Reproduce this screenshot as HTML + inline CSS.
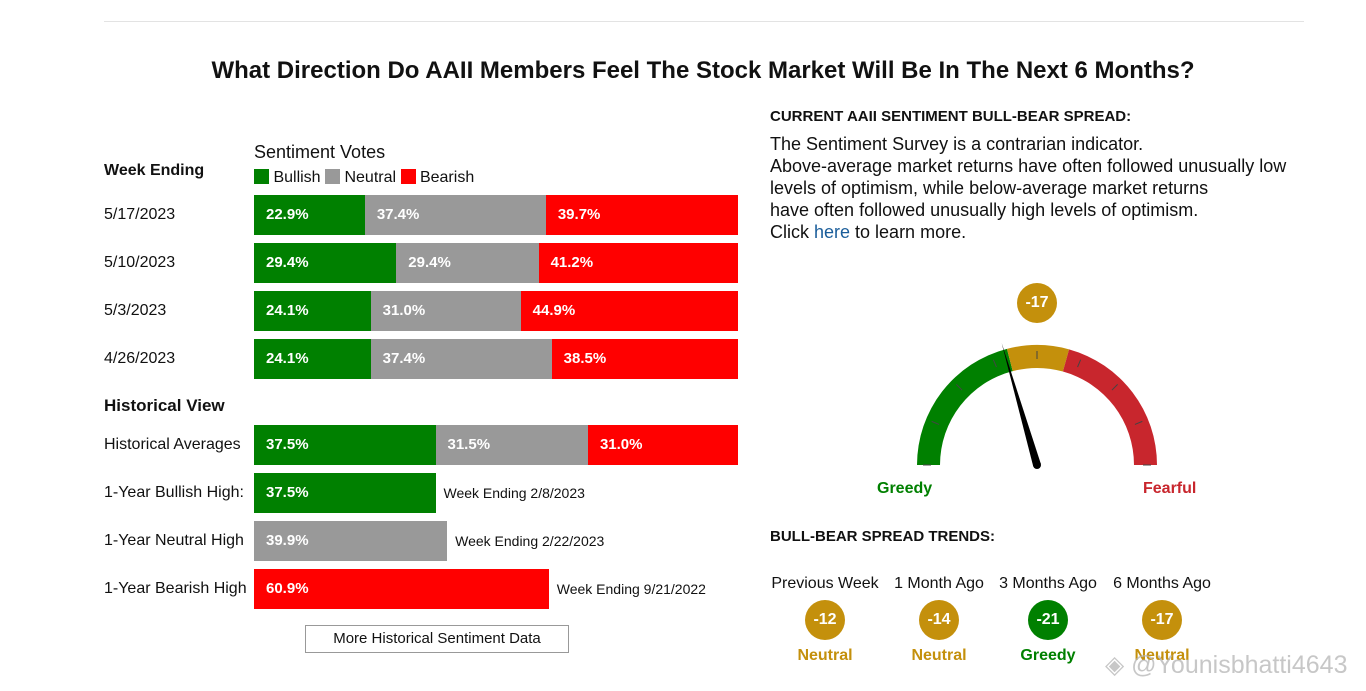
<!DOCTYPE html>
<html><head><meta charset="utf-8">
<style>
body{margin:0;width:1366px;height:691px;background:#fff;font-family:"Liberation Sans",Arial,sans-serif;position:relative;overflow:hidden;color:#111}
.a{position:absolute;white-space:nowrap}
.bar{position:absolute;height:40px;color:#fff;font-weight:bold;font-size:15px;line-height:40px;box-sizing:border-box;padding-left:12px;overflow:hidden}
.lbl{position:absolute;font-size:16px;left:104px}
.circ{position:absolute;width:40px;height:40px;border-radius:50%;color:#fff;font-weight:bold;font-size:16px;text-align:center;line-height:40px}
.st{position:absolute;font-weight:bold;font-size:16px;text-align:center;width:100px}
</style></head><body>
<div class="a" style="left:104px;top:21px;width:1200px;height:1px;background:#e3e3e3"></div>
<div class="a" style="left:0;width:1406px;text-align:center;top:57px;font-size:24px;font-weight:bold">What Direction Do AAII Members Feel The Stock Market Will Be In The Next 6 Months?</div>

<div class="a" style="left:104px;top:162px;font-size:16px;font-weight:bold">Week Ending</div>
<div class="a" style="left:254px;top:142px;font-size:18px">Sentiment Votes</div>
<div class="a" style="left:254px;top:169px;font-size:16px">
<span><span style="display:inline-block;width:15px;height:15px;background:#008000;vertical-align:-2px"></span> Bullish</span>
<span><span style="display:inline-block;width:15px;height:15px;background:#999;vertical-align:-2px"></span> Neutral</span>
<span><span style="display:inline-block;width:15px;height:15px;background:#f00;vertical-align:-2px"></span> Bearish</span>
</div>
<div class="a" style="left:104px;top:396px;font-size:17px;font-weight:bold">Historical View</div>
<div id="bars"></div>
<div class="a" style="left:305px;top:625px;width:262px;height:26px;border:1px solid #999;text-align:center;line-height:26px;font-size:15px">More Historical Sentiment Data</div>

<div class="a" style="left:770px;top:108px;font-size:15px;font-weight:bold">CURRENT AAII SENTIMENT BULL-BEAR SPREAD:</div>
<div class="a" style="left:770px;top:133px;font-size:18px;line-height:22px">The Sentiment Survey is a contrarian indicator.<br>Above-average market returns have often followed unusually low<br>levels of optimism, while below-average market returns<br>have often followed unusually high levels of optimism.<br>Click <span style="color:#1a5d9a">here</span> to learn more.</div>

<div class="circ" style="left:1017px;top:283px;background:#c4900c">-17</div>
<svg class="a" style="left:900px;top:330px" width="280" height="150" viewBox="900 330 280 150" id="gauge"></svg>
<div class="a" style="left:877px;top:480px;font-size:16px;font-weight:bold;color:#008000">Greedy</div>
<div class="a" style="left:1143px;top:480px;font-size:16px;font-weight:bold;color:#c8262d">Fearful</div>

<div class="a" style="left:770px;top:528px;font-size:15px;font-weight:bold">BULL-BEAR SPREAD TRENDS:</div>
<div id="trends"></div>
<div class="a" style="left:1105px;top:650px;font-size:25px;color:rgba(180,180,180,0.75)">◈ @Younisbhatti4643</div>

<script>
const weekLabels=["5/17/2023","5/10/2023","5/3/2023","4/26/2023","Historical Averages"];
const bullish=[22.9,29.4,24.1,24.1,37.5];
const neutral=[37.4,29.4,31.0,37.4,31.5];
const bearish=[39.7,41.2,44.9,38.5,31.0];
const highLabels=["1-Year Bullish High:","1-Year Neutral High","1-Year Bearish High"];
const highValues=[37.5,39.9,60.9];
const highWeeks=["Week Ending 2/8/2023","Week Ending 2/22/2023","Week Ending 9/21/2022"];
const trendLabels=["Previous Week","1 Month Ago","3 Months Ago","6 Months Ago"];
const trendValues=[-12,-14,-21,-17];
const trendStatus=["Neutral","Neutral","Greedy","Neutral"];
const currentSpread=-17;

const X0=254,W=484;
const xs=v=>v/100*W;
const rowTops=[195,243,291,339,425];
const host=document.getElementById('bars');
function mk(cls,name,inter,style,text){const d=document.createElement('div');d.className=cls;


d.style.cssText=style;if(text!==undefined)d.textContent=text;host.appendChild(d);return d;}
weekLabels.forEach((l,i)=>{
 const t=rowTops[i];
 mk('lbl','row-label','false','top:'+(t+11)+'px',l);
 let x=X0;
 [[bullish[i],'#008000','bullish'],[neutral[i],'#999','neutral'],[bearish[i],'#f00','bearish']].forEach(s=>{
  const w=xs(s[0]);
  mk('bar','bar-'+s[2],'false','left:'+x+'px;top:'+t+'px;width:'+w+'px;background:'+s[1],s[0].toFixed(1)+'%');
  x+=w;});
});
const hc=['#008000','#999','#f00'];
highLabels.forEach((l,i)=>{
 const t=473+i*48;
 mk('lbl','high-label','false','top:'+(t+11)+'px',l);
 const w=xs(highValues[i]);
 mk('bar','bar-high','false','left:'+X0+'px;top:'+t+'px;width:'+w+'px;background:'+hc[i],highValues[i].toFixed(1)+'%');
 mk('a','high-week','false','left:'+(X0+w+8)+'px;top:'+(t+12)+'px;font-size:14px',highWeeks[i]);
});

const th=document.getElementById('trends');
const colOf=s=>s==='Greedy'?'#008000':(s==='Fearful'?'#c8262d':'#c4900c');
const centers=[825,939,1048,1162];
trendLabels.forEach((l,i)=>{
 const c=centers[i];
 let d=document.createElement('div');d.className='a';
 
 
 d.style.cssText='left:'+(c-60)+'px;width:120px;text-align:center;top:575px;font-size:16px';d.textContent=l;th.appendChild(d);
 d=document.createElement('div');d.className='circ';
 
 
 d.style.cssText='left:'+(c-20)+'px;top:600px;background:'+colOf(trendStatus[i]);d.textContent=trendValues[i];th.appendChild(d);
 d=document.createElement('div');d.className='st';
 
 
 d.style.cssText='left:'+(c-50)+'px;top:647px;color:'+colOf(trendStatus[i]);d.textContent=trendStatus[i];th.appendChild(d);
});

const g=document.getElementById('gauge');const NS='http://www.w3.org/2000/svg';
const cx=1037,cy=465,R=120,r=97;
const segs=[[180,104.5,'#008000','gauge-greedy'],[104.5,74.5,'#c4900c','gauge-neutral'],[74.5,0,'#c8262d','gauge-fearful']];
const pt=(a,rad)=>[cx+rad*Math.cos(a*Math.PI/180),cy-rad*Math.sin(a*Math.PI/180)];
segs.forEach(s=>{const [a1,a2,c,n]=s;const p1=pt(a1,R),p2=pt(a2,R),p3=pt(a2,r),p4=pt(a1,r);
 const p=document.createElementNS(NS,'path');
 p.setAttribute('d',`M${p1} A${R} ${R} 0 0 1 ${p2} L${p3} A${r} ${r} 0 0 0 ${p4}Z`);
 p.setAttribute('fill',c);
 
 
 g.appendChild(p);});
for(let a=0;a<=180;a+=22.5){const p1=pt(a,R-6),p2=pt(a,R-14);const l=document.createElementNS(NS,'line');
 l.setAttribute('x1',p1[0]);l.setAttribute('y1',p1[1]);l.setAttribute('x2',p2[0]);l.setAttribute('y2',p2[1]);
 l.setAttribute('stroke','#444');l.setAttribute('stroke-width','1');
 
 
 g.appendChild(l);}
const needleAng=90+currentSpread*(-0.95);
const tip=pt(needleAng,127);const perp=needleAng+90;
const b1=pt(perp,4),b2=pt(perp+180,4);
const n=document.createElementNS(NS,'path');
n.setAttribute('d',`M${tip} L${b1} L${b2}Z`);n.setAttribute('fill','#000');


g.appendChild(n);
const hub=document.createElementNS(NS,'circle');hub.setAttribute('cx',cx);hub.setAttribute('cy',cy);hub.setAttribute('r',4);hub.setAttribute('fill','#000');


g.appendChild(hub);
</script>
</body></html>
